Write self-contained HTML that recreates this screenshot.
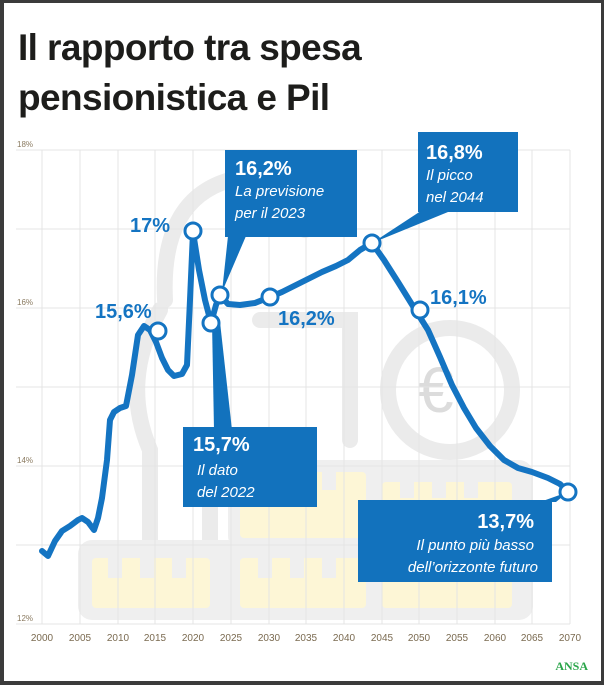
<!DOCTYPE html>
<html><head><meta charset="utf-8"><style>
html,body{margin:0;padding:0;background:#3a3a3a;}
svg{display:block}
</style></head><body>
<svg width="604" height="685" viewBox="0 0 604 685" xmlns="http://www.w3.org/2000/svg" font-family="Liberation Sans, sans-serif">
<rect x="0" y="0" width="604" height="685" fill="#3b3b3b"/>
<rect x="4" y="3" width="597" height="678" fill="#ffffff"/>
<text x="18" y="60" font-size="37" font-weight="bold" fill="#1d1d1b" letter-spacing="-0.6">Il rapporto tra spesa</text>
<text x="18" y="110" font-size="37" font-weight="bold" fill="#1d1d1b" letter-spacing="-0.6">pensionistica e Pil</text>

<!-- watermark -->
<g fill="none" stroke="#ebebeb" stroke-width="16" stroke-linecap="round">
<path d="M165 300 Q160 200 230 180 Q300 175 305 230"/>
<path d="M160 310 Q120 380 150 450 L150 560"/>
<path d="M210 460 L210 560 M270 470 L270 560"/>
<path d="M260 320 L350 320 L350 440"/>
<circle cx="450" cy="390" r="62"/>
</g>
<text x="418" y="412" font-size="64" fill="#dcdcdc">€</text>
<rect x="78" y="540" width="455" height="80" rx="14" fill="#efefef"/>
<rect x="228" y="460" width="305" height="90" rx="14" fill="#efefef"/>
<g fill="#fdf6d6">
<rect x="92" y="558" width="118" height="50" rx="4"/>
<rect x="240" y="558" width="126" height="50" rx="4"/>
<rect x="382" y="558" width="130" height="50" rx="4"/>
<rect x="240" y="472" width="126" height="66" rx="4"/>
<rect x="382" y="482" width="130" height="56" rx="4"/>
</g>
<g fill="#efefef">
<rect x="108" y="558" width="14" height="20"/><rect x="140" y="558" width="14" height="20"/><rect x="172" y="558" width="14" height="20"/>
<rect x="258" y="558" width="14" height="20"/><rect x="290" y="558" width="14" height="20"/><rect x="322" y="558" width="14" height="20"/>
<rect x="400" y="558" width="14" height="20"/><rect x="432" y="558" width="14" height="20"/><rect x="464" y="558" width="14" height="20"/>
<rect x="258" y="472" width="14" height="18"/><rect x="290" y="472" width="14" height="18"/><rect x="322" y="472" width="14" height="18"/>
<rect x="400" y="482" width="14" height="16"/><rect x="432" y="482" width="14" height="16"/><rect x="464" y="482" width="14" height="16"/>
</g>

<!-- grid -->
<g stroke="#e4e4e4" stroke-width="1">
<line x1="16" y1="150" x2="570" y2="150"/><line x1="16" y1="229" x2="570" y2="229"/>
<line x1="16" y1="308" x2="570" y2="308"/><line x1="16" y1="387" x2="570" y2="387"/>
<line x1="16" y1="466" x2="570" y2="466"/><line x1="16" y1="545" x2="570" y2="545"/>
<line x1="16" y1="624" x2="570" y2="624"/>
<line x1="42" y1="150" x2="42" y2="624"/><line x1="80" y1="150" x2="80" y2="624"/><line x1="118" y1="150" x2="118" y2="624"/>
<line x1="155" y1="150" x2="155" y2="624"/><line x1="193" y1="150" x2="193" y2="624"/><line x1="231" y1="150" x2="231" y2="624"/>
<line x1="269" y1="150" x2="269" y2="624"/><line x1="306" y1="150" x2="306" y2="624"/><line x1="344" y1="150" x2="344" y2="624"/>
<line x1="382" y1="150" x2="382" y2="624"/><line x1="419" y1="150" x2="419" y2="624"/><line x1="457" y1="150" x2="457" y2="624"/>
<line x1="495" y1="150" x2="495" y2="624"/><line x1="532" y1="150" x2="532" y2="624"/><line x1="570" y1="150" x2="570" y2="624"/>
</g>
<g font-size="8" fill="#8a7a60">
<text x="17" y="147">18%</text><text x="17" y="305">16%</text><text x="17" y="463">14%</text><text x="17" y="621">12%</text>
</g>
<g font-size="10" fill="#7a6a50" text-anchor="middle">
<text x="42" y="641">2000</text><text x="80" y="641">2005</text><text x="118" y="641">2010</text><text x="155" y="641">2015</text>
<text x="193" y="641">2020</text><text x="231" y="641">2025</text><text x="269" y="641">2030</text><text x="306" y="641">2035</text>
<text x="344" y="641">2040</text><text x="382" y="641">2045</text><text x="419" y="641">2050</text><text x="457" y="641">2055</text>
<text x="495" y="641">2060</text><text x="532" y="641">2065</text><text x="570" y="641">2070</text>
</g>
<text x="588" y="670" font-size="12" font-weight="bold" fill="#2aa54a" text-anchor="end" font-family="Liberation Serif, serif">ANSA</text>

<!-- callout boxes -->
<g fill="#1272bd">
<rect x="225" y="150" width="132" height="87"/>
<polygon points="228,236 246,236 222,292"/>
<rect x="418" y="132" width="100" height="80"/>
<polygon points="430,205 448,212 372,243"/>
<rect x="183" y="427" width="134" height="80"/>
<polygon points="212,322 220,322 232,430 214,430"/>
<rect x="358" y="500" width="194" height="82"/>
<polygon points="540,502 556,502 568,492"/>
</g>

<!-- line -->
<polyline fill="none" stroke="#1474c2" stroke-width="6" stroke-linejoin="round" stroke-linecap="round"
points="42,551 48,556 55,541 62,531 70,526 78,520 82,518 88,522 94,530 98,518 102,498 107,460 110,420 114,412 120,408 126,406 132,375 138,335 144,326 150,330 156,342 162,358 168,370 174,376 182,374 187,365 190,300 193,232 199,270 205,300 211,323 216,305 220,295 228,304 240,305 255,303 270,297 282,292 296,285 310,278 322,272 336,266 348,260 360,250 372,243 384,260 398,282 416,311 428,330 440,357 452,385 464,408 476,428 490,446 504,460 518,468 532,472 548,478 560,484 568,492"/>
<g fill="#fff" stroke="#1474c2" stroke-width="3">
<circle cx="193" cy="231" r="8"/><circle cx="158" cy="331" r="8"/><circle cx="211" cy="323" r="8"/>
<circle cx="220" cy="295" r="8"/><circle cx="270" cy="297" r="8"/><circle cx="372" cy="243" r="8"/>
<circle cx="420" cy="310" r="8"/><circle cx="568" cy="492" r="8"/>
</g>

<g font-weight="bold" fill="#1474c2" font-size="20">
<text x="130" y="232">17%</text>
<text x="95" y="318">15,6%</text>
<text x="278" y="325">16,2%</text>
<text x="430" y="304">16,1%</text>
</g>
<g fill="#fff">
<text x="235" y="175" font-size="20" font-weight="bold">16,2%</text>
<text x="235" y="196" font-size="15" font-style="italic">La previsione</text>
<text x="235" y="218" font-size="15" font-style="italic">per il 2023</text>
<text x="426" y="159" font-size="20" font-weight="bold">16,8%</text>
<text x="426" y="180" font-size="15" font-style="italic">Il picco</text>
<text x="426" y="202" font-size="15" font-style="italic">nel 2044</text>
<text x="193" y="451" font-size="20" font-weight="bold">15,7%</text>
<text x="197" y="475" font-size="15" font-style="italic">Il dato</text>
<text x="197" y="497" font-size="15" font-style="italic">del 2022</text>
<text x="534" y="528" font-size="20" font-weight="bold" text-anchor="end">13,7%</text>
<text x="534" y="550" font-size="15" font-style="italic" text-anchor="end">Il punto più basso</text>
<text x="538" y="572" font-size="15" font-style="italic" text-anchor="end">dell’orizzonte futuro</text>
</g>
</svg>
</body></html>
